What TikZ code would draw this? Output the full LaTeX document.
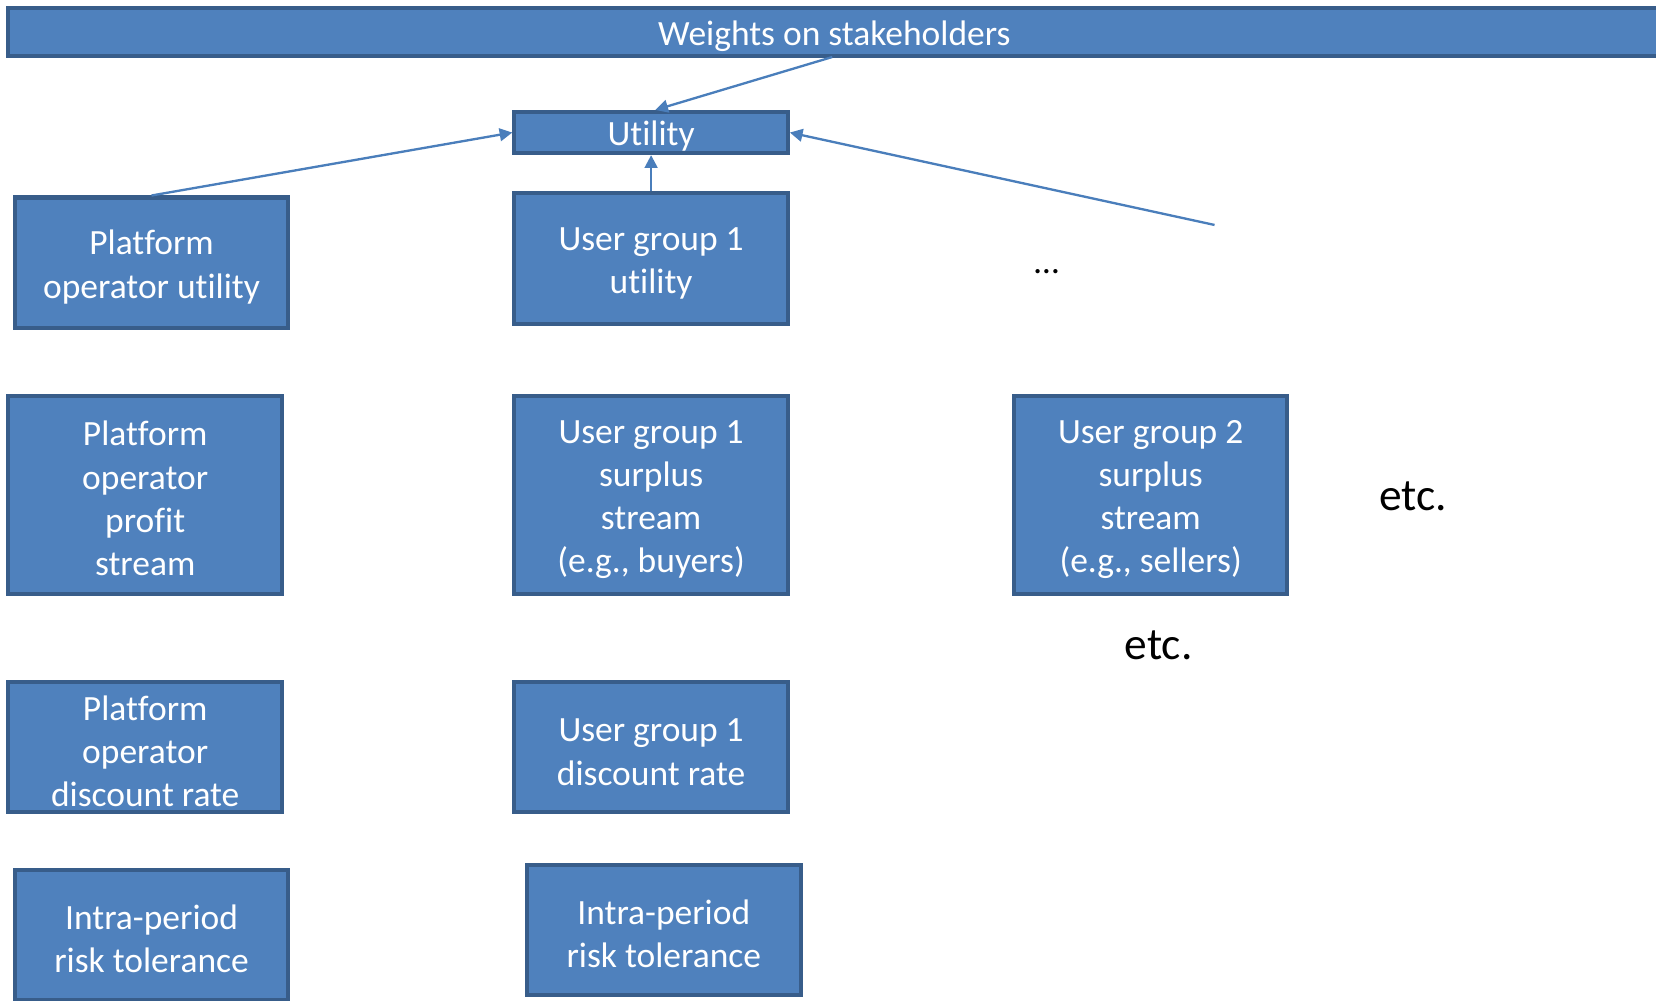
\documentclass[tikz,border=0pt]{standalone}
\usepackage{fontspec}
\setmainfont{Carlito}[Ligatures=NoCommon]
\usetikzlibrary{arrows.meta}
\definecolor{boxfill}{HTML}{4F81BD}
\definecolor{boxline}{HTML}{385D8A}
\definecolor{linkline}{HTML}{4A7EBB}
% strut that sets the height of a box's first text line
\newcommand{\firstline}{\rule{0pt}{15.4pt}}
\begin{document}
\begin{tikzpicture}[x=0.5pt,y=-0.5pt,
  box/.style={draw=boxline, fill=boxfill, line width=1.9pt, text=white,
    align=center, inner sep=0pt, minimum width=129.5pt,
    font=\fontsize{16.8}{20.5}\selectfont},
  link/.style={draw=linkline, line width=1.1pt,
    -{Triangle[length=6pt,width=6pt]}},
  note/.style={font=\fontsize{21.5}{26}\selectfont, inner sep=0pt}]
\useasboundingbox (0,0) rectangle (1568,947);

% top bar and utility
\node[box, minimum width=782pt, minimum height=22.5pt] (weights) at (790,30.5) {\firstline Weights on stakeholders};
\node[box, minimum height=19.5pt] (util) at (616.5,125.5) {\firstline Utility};

% utility level
\node[box, minimum height=62pt] (pou) at (143.5,249) {\firstline Platform\\operator utility};
\node[box, minimum height=62pt] (ug1u) at (616.5,245) {\firstline User group 1\\utility};
\node[font=\fontsize{16.8}{20.5}\selectfont, inner sep=0pt] (dots) at (991,257) {…};

% streams
\node[box, minimum height=93.5pt] (pops) at (137.5,468.5) {\firstline Platform\\operator\\profit\\stream};
\node[box, minimum height=93.5pt] (ug1s) at (616.5,468.5) {\firstline User group 1\\surplus\\stream\\(e.g., buyers)};
\node[box, minimum height=93.5pt] (ug2s) at (1089.5,468.5) {\firstline User group 2\\surplus\\stream\\(e.g., sellers)};
\node[note] (etcA) at (1338,470) {etc.};
\node[note] (etcB) at (1097,611) {etc.};

% discount rates
\node[box, minimum height=61.5pt] (podr) at (137.5,707.5) {\firstline Platform\\operator\\discount rate};
\node[box, minimum height=61.5pt] (ug1dr) at (616.5,707.5) {\firstline User group 1\\discount rate};

% risk tolerance
\node[box, minimum height=61.5pt] (irtA) at (143.5,885.5) {\firstline Intra-period\\risk tolerance};
\node[box, minimum height=61.5pt] (irtB) at (628.5,880.5) {\firstline Intra-period\\risk tolerance};

% connectors into the utility box
\coordinate (wfoot) at (788,54);
\coordinate (more) at (1150,213);
\draw[link] (wfoot) -- ([xshift=2pt]util.north);
\draw[link] (pou.north) -- (util.west);
\draw[link] (ug1u.north) -- (util.south);
\draw[link] (more) -- (util.east);
\end{tikzpicture}
\end{document}
